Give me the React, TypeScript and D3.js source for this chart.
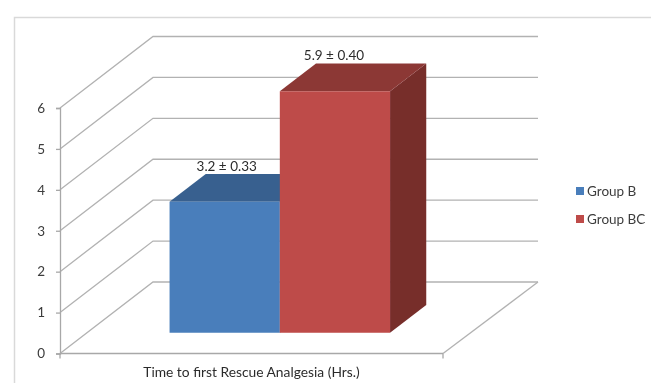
import { useEffect, useRef } from 'react';
import * as d3 from 'd3';

const groups = ['Group B', 'Group BC'];
const values = [3.2, 5.9];
const valueLabels = ['3.2 ± 0.33', '5.9 ± 0.40'];
const yTicks = [0, 1, 2, 3, 4, 5, 6];
const category = 'Time to first Rescue Analgesia (Hrs.)';
const frontColors = ['#4a7ebb', '#be4b48'];
const topColors = ['#38618f', '#8c3836'];
const sideColors = ['#2f5279', '#772d2b'];

const width = 651;
const height = 383;
const font = 'Lato, "Open Sans", sans-serif';

export default function App() {
  const svgRef = useRef<SVGSVGElement>(null);

  useEffect(() => {
    if (!svgRef.current) return;
    const svg = d3.select(svgRef.current);
    svg.selectAll('*').remove();

    // slight softness, the reference is an upscaled picture
    svg.append('defs')
      .append('filter')
      .attr('id', 'soft')
      .append('feGaussianBlur')
      .attr('stdDeviation', 0.55);

    const g = svg.append('g').attr('filter', 'url(#soft)');

    // Scales
    const y = d3.scaleLinear().domain([0, 6]).range([353.5, 108]);
    const floorX = d3.scaleLinear().domain([0, 1]).range([60, 443]);
    const backX = d3.scaleLinear().domain([0, 1]).range([153, 538]);
    const depthX = d3.scaleLinear().domain([0, 1]).range([0, 93]);
    const depthY = d3.scaleLinear().domain([0, 1]).range([0, 71.5]);
    const barX = d3.scaleBand<string>().domain(groups).range([142.5, 363]);
    const barDepth = [0.291, 0.68];

    const project = (px: number, py: number, depth: number): [number, number] => [
      px + depthX(depth),
      py - depthY(depth),
    ];
    const line = d3.line<[number, number]>();

    // Outer frame
    g.append('path')
      .attr('d', `M14.5,${height}V17.5H${width}`)
      .attr('fill', 'none')
      .attr('stroke', '#d9d9d9')
      .attr('stroke-width', 1.5);

    // Walls
    yTicks.forEach(t => {
      const backY = y(t) - depthY(1);
      g.append('path')
        .attr('d', line([
          [floorX(0), y(t)],
          [backX(0), backY],
          [backX(1), backY],
        ]))
        .attr('fill', 'none')
        .attr('stroke', '#b2b2b2')
        .attr('stroke-width', 1.3);
    });

    // Floor edge
    g.append('path')
      .attr('d', line([
        [floorX(1), y(0)],
        [backX(1), y(0) - depthY(1)],
      ]))
      .attr('fill', 'none')
      .attr('stroke', '#b2b2b2')
      .attr('stroke-width', 1.3);

    // Y axis
    const yAxis = g.append('g')
      .attr('transform', `translate(${floorX(0)},0)`)
      .call(d3.axisLeft(y).tickValues(yTicks).tickSize(4).tickPadding(11).tickFormat(d3.format('d')));
    yAxis.selectAll('line, path').attr('stroke', '#a8a8a8').attr('stroke-width', 1.3);
    yAxis.selectAll('text')
      .attr('font-family', font)
      .attr('font-size', 13.5)
      .attr('fill', '#3c3c3c');

    // X axis
    const xAxis = g.append('g').attr('transform', `translate(0,${y(0)})`);
    xAxis.append('path')
      .attr('d', `M${floorX(0)},0H${floorX(1)}`)
      .attr('stroke', '#a8a8a8')
      .attr('stroke-width', 1.3);
    [0, 1].forEach(k => {
      xAxis.append('line')
        .attr('x1', floorX(k))
        .attr('x2', floorX(k))
        .attr('y1', 0)
        .attr('y2', 5)
        .attr('stroke', '#a8a8a8')
        .attr('stroke-width', 1.3);
    });
    g.append('text')
      .attr('x', 251.5)
      .attr('y', 377)
      .attr('text-anchor', 'middle')
      .attr('font-family', font)
      .attr('font-size', 13.8)
      .attr('fill', '#2c2c2c')
      .text(category);

    // Bars
    const base = y(0);
    groups.forEach((name, i) => {
      const x0 = barX(name) || 0;
      const x1 = x0 + barX.bandwidth();
      const top = y(values[i]);
      const [d0, d1] = barDepth;
      const bar = g.append('g');

      bar.append('path')
        .attr('d', line([project(x1, top, d0), project(x1, top, d1), project(x1, base, d1), project(x1, base, d0)]) + 'Z')
        .attr('fill', sideColors[i]);
      bar.append('path')
        .attr('d', line([project(x0, top, d0), project(x0, top, d1), project(x1, top, d1), project(x1, top, d0)]) + 'Z')
        .attr('fill', topColors[i]);
      bar.append('path')
        .attr('d', line([project(x0, top, d0), project(x1, top, d0), project(x1, base, d0), project(x0, base, d0)]) + 'Z')
        .attr('fill', frontColors[i]);
    });

    // Value labels
    groups.forEach((name, i) => {
      const [cx] = project((barX(name) || 0) + barX.bandwidth() / 2, 0, barDepth[0]);
      const [, cy] = project(0, y(values[i]), barDepth[1]);
      g.append('text')
        .attr('x', cx + (i === 0 ? 2 : -1))
        .attr('y', cy - 3)
        .attr('text-anchor', 'middle')
        .attr('font-family', font)
        .attr('font-size', 13.5)
        .attr('fill', '#2c2c2c')
        .text(valueLabels[i]);
    });

    // Legend
    const legendY = d3.scalePoint<string>().domain(groups).range([191, 219]);
    groups.forEach((name, i) => {
      const ly = legendY(name) || 0;
      g.append('rect')
        .attr('x', 576)
        .attr('y', ly - 4)
        .attr('width', 8)
        .attr('height', 8)
        .attr('fill', frontColors[i]);
      g.append('text')
        .attr('x', 587)
        .attr('y', ly + 4.5)
        .attr('font-family', font)
        .attr('font-size', 13.5)
        .attr('fill', '#3c3c3c')
        .text(name);
    });
  }, []);

  return (
    <svg
      ref={svgRef}
      width={width}
      height={height}
      style={{ position: 'absolute', left: 0, top: 0, background: '#fff' }}
    />
  );
}
